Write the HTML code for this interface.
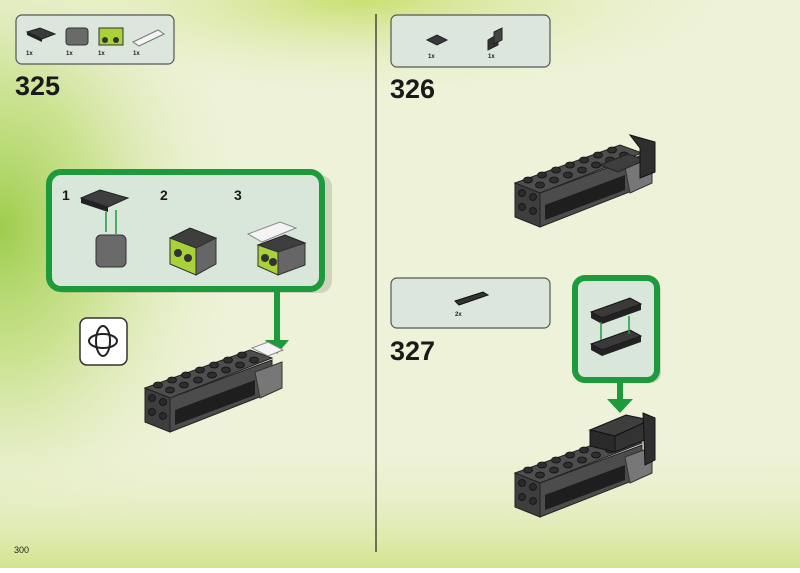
<!DOCTYPE html>
<html><head><meta charset="utf-8"><style>
html,body{margin:0;padding:0}
body{width:800px;height:568px;overflow:hidden;font-family:"Liberation Sans",sans-serif}
</style></head><body>
<svg width="800" height="568" viewBox="0 0 800 568" xmlns="http://www.w3.org/2000/svg">
<defs>
<radialGradient id="gl" cx="0" cy="0.4" r="0.6">
<stop offset="0" stop-color="#9ccd4c"/><stop offset="0.4" stop-color="#bddc74" stop-opacity="0.7"/><stop offset="1" stop-color="#eef2d8" stop-opacity="0"/></radialGradient>
<radialGradient id="gt" cx="0.45" cy="0" r="0.5">
<stop offset="0" stop-color="#c8e070"/><stop offset="1" stop-color="#eef2d8" stop-opacity="0"/></radialGradient>
<linearGradient id="gb" x1="0" y1="0" x2="0" y2="1">
<stop offset="0" stop-color="#eef2d8" stop-opacity="0"/><stop offset="1" stop-color="#d2e48e"/></linearGradient>
<g id="model">
<polygon points="145,388 250,350 272,358 170,398" fill="#4e4e4e" stroke="#222" stroke-width="1"/>
<polygon points="145,388 170,398 170,432 145,422" fill="#3e3e3e" stroke="#222"/>
<polygon points="170,398 272,360 272,392 170,432" fill="#4c4c4c" stroke="#222"/>
<polygon points="175,410 255,380 255,395 175,425" fill="#1e1e1e"/>
<polygon points="255,372 282,362 282,388 260,398" fill="#777" stroke="#333"/>
<g fill="#2a2a2a" stroke="#111" stroke-width="0.8">
<circle cx="152" cy="398" r="3.5"/><circle cx="163" cy="402" r="3.5"/><circle cx="152" cy="412" r="3.5"/><circle cx="163" cy="416" r="3.5"/></g>
<g fill="#2e2e2e" stroke="#111" stroke-width="0.8">
<ellipse cx="158" cy="385" rx="4.5" ry="3"/><ellipse cx="172" cy="380" rx="4.5" ry="3"/><ellipse cx="186" cy="375" rx="4.5" ry="3"/><ellipse cx="200" cy="370" rx="4.5" ry="3"/><ellipse cx="214" cy="365" rx="4.5" ry="3"/><ellipse cx="228" cy="360" rx="4.5" ry="3"/><ellipse cx="242" cy="355" rx="4.5" ry="3"/>
<ellipse cx="170" cy="390" rx="4.5" ry="3"/><ellipse cx="184" cy="385" rx="4.5" ry="3"/><ellipse cx="198" cy="380" rx="4.5" ry="3"/><ellipse cx="212" cy="375" rx="4.5" ry="3"/><ellipse cx="226" cy="370" rx="4.5" ry="3"/><ellipse cx="240" cy="365" rx="4.5" ry="3"/><ellipse cx="254" cy="360" rx="4.5" ry="3"/></g>
</g>
</defs>
<rect width="800" height="568" fill="#eef2d8"/>
<rect width="420" height="568" fill="url(#gl)"/>
<rect width="800" height="200" fill="url(#gt)"/>
<rect y="440" width="800" height="128" fill="url(#gb)"/>
<line x1="376" y1="14" x2="376" y2="552" stroke="#222" stroke-width="1.2"/>

<!-- parts 325 -->
<rect x="16" y="15" width="158" height="49" rx="6" fill="#dce6dc" stroke="#555" stroke-width="1.2"/>
<polygon points="27,32 40,28 55,34 42,39" fill="#3a3a3a" stroke="#222"/><polygon points="27,32 42,39 42,42 27,35" fill="#222"/>
<rect x="66" y="28" width="22" height="17" rx="3" fill="#6a6a6a" stroke="#333"/>
<rect x="99" y="28" width="24" height="17" fill="#a9d13a" stroke="#333"/><circle cx="105" cy="40" r="3" fill="#333"/><circle cx="116" cy="40" r="3" fill="#333"/>
<polygon points="133,42 158,30 164,34 139,46" fill="#f4f4f4" stroke="#777"/>
<g font-size="6" font-weight="bold" fill="#222"><text x="26" y="55">1x</text><text x="66" y="55">1x</text><text x="98" y="55">1x</text><text x="133" y="55">1x</text></g>
<text x="15" y="95" font-size="27" font-weight="bold" fill="#1a1a1a">325</text>

<!-- parts 326 -->
<rect x="391" y="15" width="159" height="52" rx="6" fill="#dce6dc" stroke="#555" stroke-width="1.2"/>
<polygon points="427,40 437,35 447,40 437,45" fill="#3a3a3a" stroke="#222"/>
<polygon points="488,40 498,34 498,45 488,50" fill="#333" stroke="#222"/><polygon points="494,32 502,28 502,40 494,44" fill="#444" stroke="#222"/>
<g font-size="6" font-weight="bold" fill="#222"><text x="428" y="58">1x</text><text x="488" y="58">1x</text></g>
<text x="390" y="98" font-size="27" font-weight="bold" fill="#1a1a1a">326</text>

<!-- callout 325 -->
<rect x="53" y="175" width="279" height="118" rx="12" fill="#000" opacity="0.12"/>
<rect x="49" y="172" width="273" height="117" rx="12" fill="#d9e6da" stroke="#1c9a3c" stroke-width="6"/>
<g font-size="14" font-weight="bold" fill="#1a1a1a"><text x="62" y="200">1</text><text x="160" y="200">2</text><text x="234" y="200">3</text></g>
<polygon points="81,198 100,190 128,198 108,207" fill="#3e3e3e" stroke="#222"/><polygon points="81,198 108,207 108,212 81,203" fill="#222"/>
<line x1="106" y1="212" x2="106" y2="232" stroke="#1c9a3c" stroke-width="1.5"/><line x1="116" y1="210" x2="116" y2="234" stroke="#1c9a3c" stroke-width="1.5"/>
<rect x="96" y="235" width="30" height="32" rx="5" fill="#6a6a6a" stroke="#333"/>
<polygon points="170,238 190,228 216,238 196,248" fill="#3e3e3e" stroke="#222"/>
<polygon points="170,238 196,248 196,275 170,264" fill="#a9d13a" stroke="#333"/><polygon points="196,248 216,238 216,264 196,275" fill="#666" stroke="#333"/>
<circle cx="178" cy="253" r="4" fill="#333"/><circle cx="188" cy="258" r="4" fill="#333"/>
<polygon points="248,234 280,222 296,228 262,242" fill="#f4f4f4" stroke="#888"/>
<polygon points="258,245 285,235 305,243 278,252" fill="#3e3e3e" stroke="#222"/>
<polygon points="258,245 278,252 278,275 258,266" fill="#a9d13a" stroke="#333"/><polygon points="278,252 305,243 305,265 278,275" fill="#666" stroke="#333"/>
<circle cx="265" cy="258" r="4" fill="#333"/><circle cx="273" cy="262" r="4" fill="#333"/>
<line x1="277" y1="292" x2="277" y2="340" stroke="#1c9a3c" stroke-width="6"/>
<polygon points="265,340 289,340 277,354" fill="#1c9a3c"/>

<!-- rotate icon -->
<rect x="80" y="318" width="47" height="47" rx="7" fill="#fff" stroke="#333" stroke-width="1.5"/>
<ellipse cx="103" cy="341" rx="14" ry="7" fill="none" stroke="#222" stroke-width="2"/>
<ellipse cx="103" cy="341" rx="7" ry="15" fill="none" stroke="#222" stroke-width="2"/>

<use href="#model"/>
<polygon points="252,348 268,342 283,350 268,356" fill="#f4f4f4" stroke="#888"/>

<!-- 326 model -->
<use href="#model" transform="translate(370,-205)"/>
<polygon points="600,165 628,154 645,160 618,172" fill="#3e3e3e" stroke="#222"/>
<polygon points="630,135 655,142 655,172 640,178 640,148" fill="#2e2e2e" stroke="#111"/>

<!-- parts 327 -->
<rect x="391" y="278" width="159" height="50" rx="6" fill="#dce6dc" stroke="#555" stroke-width="1.2"/>
<polygon points="455,301 483,292 488,295 459,305" fill="#333" stroke="#111"/>
<text x="455" y="316" font-size="6" font-weight="bold" fill="#222">2x</text>
<text x="390" y="360" font-size="27" font-weight="bold" fill="#1a1a1a">327</text>

<!-- callout 327 -->
<rect x="579" y="281" width="82" height="102" rx="10" fill="#000" opacity="0.12"/>
<rect x="575" y="278" width="82" height="102" rx="10" fill="#d9e6da" stroke="#1c9a3c" stroke-width="6"/>
<polygon points="591,312 630,298 641,304 602,318" fill="#3a3a3a" stroke="#111"/><polygon points="591,312 602,318 641,304 641,310 602,324 591,318" fill="#222"/>
<polygon points="591,344 630,330 641,336 602,350" fill="#3a3a3a" stroke="#111"/><polygon points="591,344 602,350 641,336 641,342 602,356 591,350" fill="#222"/>
<line x1="601" y1="322" x2="601" y2="340" stroke="#1c9a3c" stroke-width="1.5"/><line x1="629" y1="316" x2="629" y2="334" stroke="#1c9a3c" stroke-width="1.5"/>
<line x1="620" y1="382" x2="620" y2="400" stroke="#1c9a3c" stroke-width="6"/>
<polygon points="607,399 633,399 620,413" fill="#1c9a3c"/>

<!-- 327 model -->
<use href="#model" transform="translate(370,85)"/>
<polygon points="590,430 626,415 650,420 615,436" fill="#3e3e3e" stroke="#111"/>
<polygon points="590,430 615,436 615,452 590,446" fill="#2a2a2a" stroke="#111"/>
<polygon points="615,436 650,420 650,438 615,452" fill="#333" stroke="#111"/>
<polygon points="643,413 655,418 655,460 645,465" fill="#2e2e2e" stroke="#111"/>

<text x="14" y="553" font-size="9" fill="#222">300</text>
</svg>
</body></html>
